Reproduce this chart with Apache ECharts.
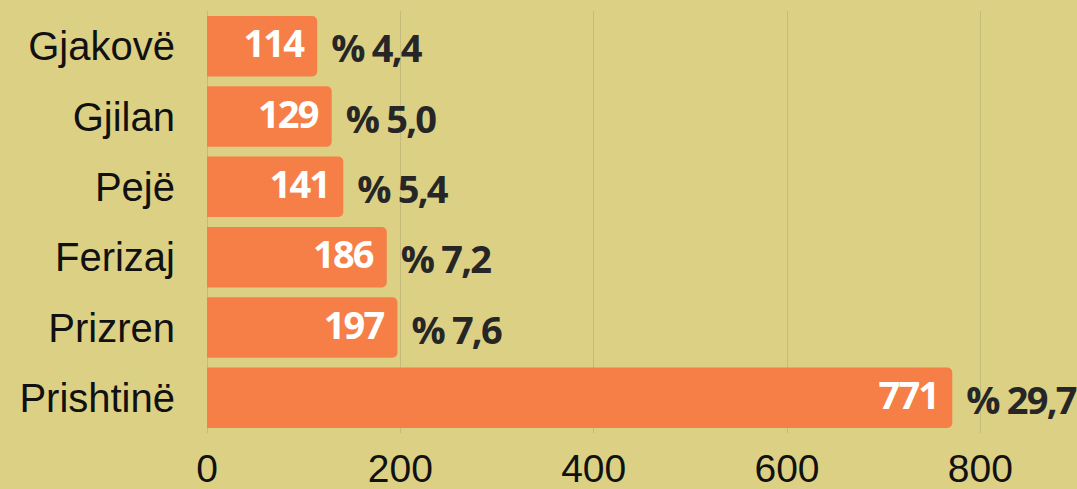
<!DOCTYPE html>
<html>
<head>
<meta charset="utf-8">
<script src="https://cdn.jsdelivr.net/npm/echarts@6/dist/echarts.min.js"></script>
<style>
  html, body { margin: 0; padding: 0; background: #dcd084; }
  #chart { width: 1077px; height: 489px; }
  /* the bar labels in the original are set tight */
  #chart text[style*="bold"] { letter-spacing: -1.8px; }
</style>
</head>
<body>
<div id="chart"></div>
<script>
// data
const cities = ['Gjakovë', 'Gjilan', 'Pejë', 'Ferizaj', 'Prizren', 'Prishtinë'];
const counts = [114, 129, 141, 186, 197, 771];
const shares = ['4,4', '5,0', '5,4', '7,2', '7,6', '29,7'];

const chart = echarts.init(document.getElementById('chart'), null, { renderer: 'svg' });

chart.setOption({
  backgroundColor: '#dcd084',
  animation: false,
  grid: { left: 207, right: 0, top: 11, bottom: 56, outerBoundsMode: 'none' },
  xAxis: {
    type: 'value',
    min: 0,
    max: 900,
    interval: 200,
    axisLine: { show: false },
    axisTick: { show: false },
    axisLabel: {
      fontFamily: 'Liberation Sans',
      fontSize: 39,
      color: '#111',
      margin: 16,
      showMaxLabel: false
    },
    splitLine: { lineStyle: { color: '#c4ba7c', width: 1 } }
  },
  yAxis: {
    type: 'category',
    inverse: true,
    data: cities,
    axisLine: { show: false },
    axisTick: { show: false },
    axisLabel: {
      fontFamily: 'Liberation Sans',
      fontSize: 40,
      color: '#111',
      margin: 32
    }
  },
  series: [
    {
      type: 'bar',
      data: counts,
      barCategoryGap: '14%',
      itemStyle: { color: '#f67f48', borderRadius: [0, 5, 5, 0] },
      label: {
        show: true,
        position: 'insideRight',
        distance: 14,
        offset: [0, -4],
        fontFamily: 'Open Sans',
        fontWeight: 'bold',
        fontSize: 38,
        color: '#fff'
      }
    },
    {
      // invisible twin of the bars, only carries the share labels
      type: 'bar',
      data: counts,
      barGap: '-100%',
      barCategoryGap: '14%',
      itemStyle: { color: 'transparent' },
      silent: true,
      label: {
        show: true,
        position: 'right',
        distance: 14,
        offset: [0, 1],
        fontFamily: 'Open Sans',
        fontWeight: 'bold',
        fontSize: 38,
        color: '#262626',
        formatter: p => '% ' + shares[p.dataIndex]
      }
    }
  ]
});
</script>
</body>
</html>
